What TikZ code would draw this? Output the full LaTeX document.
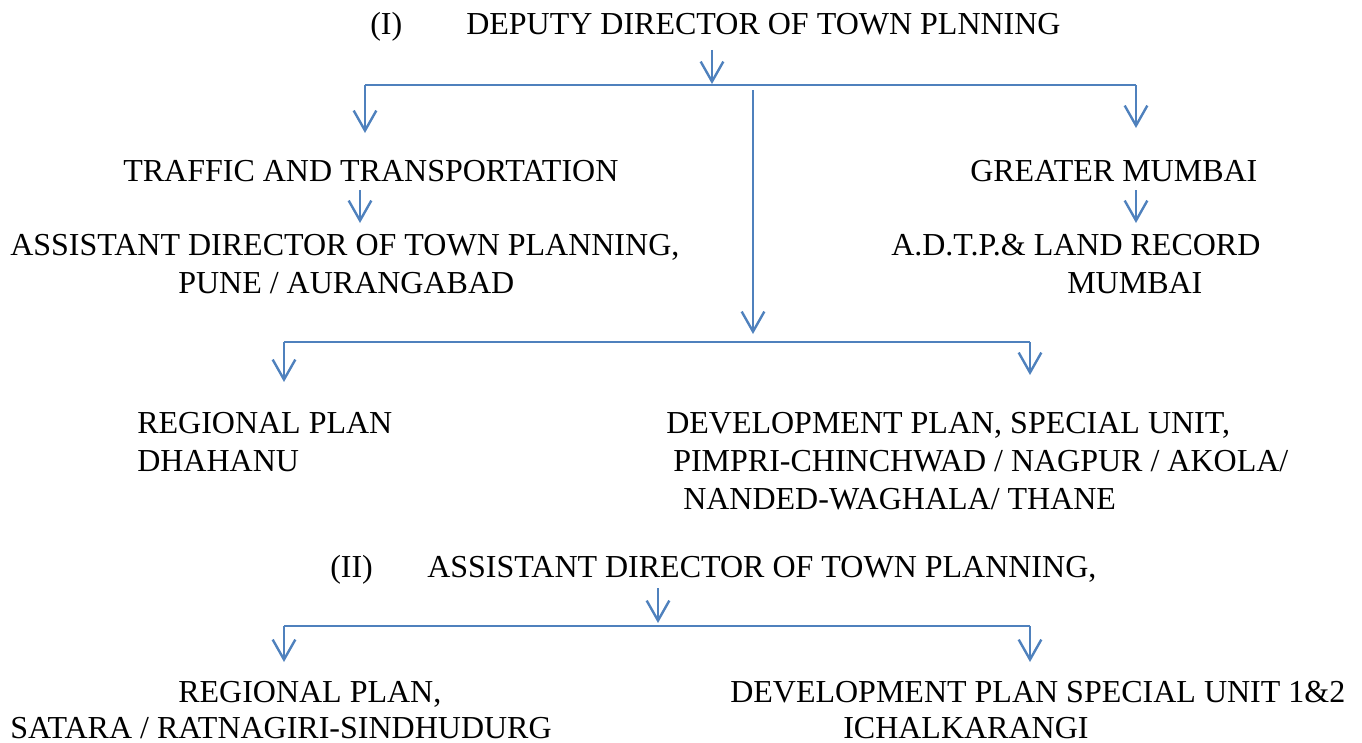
\documentclass[tikz,border=0pt]{standalone}
\usepackage{fontspec}
\setmainfont{Liberation Serif}
\usetikzlibrary{arrows.meta}
\definecolor{lblue}{HTML}{4F81BD}
\begin{document}
\begin{tikzpicture}[x=0.75pt,y=-0.75pt,
  txt/.style={anchor=base west,inner sep=0pt,font=\fontsize{24}{29}\selectfont},
  conn/.style={draw=lblue,line width=1.8pt},
  arr/.style={conn,-{Straight Barb[length=15pt,width=17pt,line width=1.8pt]}}]
\useasboundingbox (0,0) rectangle (1362,742);
% texts
\node[txt] (n1) at (370,35) {(I)};
\node[txt] (dd) at (466,35) {DEPUTY DIRECTOR OF TOWN PLNNING};
\node[txt] (tt) at (123,181) {TRAFFIC AND TRANSPORTATION};
\node[txt] (gm) at (970,181) {GREATER MUMBAI};
\node[txt] (ad1) at (10,255) {ASSISTANT DIRECTOR OF TOWN PLANNING,};
\node[txt] (ad2) at (178,293) {PUNE / AURANGABAD};
\node[txt] (lr1) at (891,255) {A.D.T.P.\& LAND RECORD};
\node[txt] (lr2) at (1067,293) {MUMBAI};
\node[txt] (rp1) at (137,433) {REGIONAL PLAN};
\node[txt] (rp2) at (137,471) {DHAHANU};
\node[txt] (dp1) at (666,433) {DEVELOPMENT PLAN, SPECIAL UNIT,};
\node[txt] (dp2) at (673,471) {PIMPRI-CHINCHWAD / NAGPUR / AKOLA/};
\node[txt] (dp3) at (683,509) {NANDED-WAGHALA/ THANE};
\node[txt] (n2) at (330,577) {(II)};
\node[txt] (ad3) at (427,577) {ASSISTANT DIRECTOR OF TOWN PLANNING,};
\node[txt] (sr1) at (178,702) {REGIONAL PLAN,};
\node[txt] (sr2) at (10,738) {SATARA / RATNAGIRI-SINDHUDURG};
\node[txt] (ic1) at (730,702) {DEVELOPMENT PLAN SPECIAL UNIT 1\&2};
\node[txt] (ic2) at (843,738) {ICHALKARANGI};
% coordinates
\coordinate (a0) at (712,50);
\coordinate (a1) at (712,84);
\coordinate (hL) at (365,85);
\coordinate (hR) at (1136,85);
\coordinate (hLt) at (365,133);
\coordinate (hRt) at (1136,128);
\coordinate (m0) at (753,90);
\coordinate (m1) at (753,334);
\coordinate (t0) at (360,190);
\coordinate (t1) at (360,223);
\coordinate (g0) at (1136,190);
\coordinate (g1) at (1136,223);
\coordinate (sL) at (284,342);
\coordinate (sR) at (1030,342);
\coordinate (sLt) at (284,382);
\coordinate (sRt) at (1030,375);
\coordinate (b0) at (658,588);
\coordinate (b1) at (658,623);
\coordinate (uL) at (284,626);
\coordinate (uR) at (1030,626);
\coordinate (uLt) at (284,662);
\coordinate (uRt) at (1030,662);
% connectors
\draw[arr] (a0) -- (a1);
\draw[conn] (hL) -- (hR);
\draw[arr] (hL) -- (hLt);
\draw[arr] (hR) -- (hRt);
\draw[arr] (m0) -- (m1);
\draw[arr] (t0) -- (t1);
\draw[arr] (g0) -- (g1);
\draw[conn] (sL) -- (sR);
\draw[arr] (sL) -- (sLt);
\draw[arr] (sR) -- (sRt);
\draw[arr] (b0) -- (b1);
\draw[conn] (uL) -- (uR);
\draw[arr] (uL) -- (uLt);
\draw[arr] (uR) -- (uRt);
\end{tikzpicture}
\end{document}
